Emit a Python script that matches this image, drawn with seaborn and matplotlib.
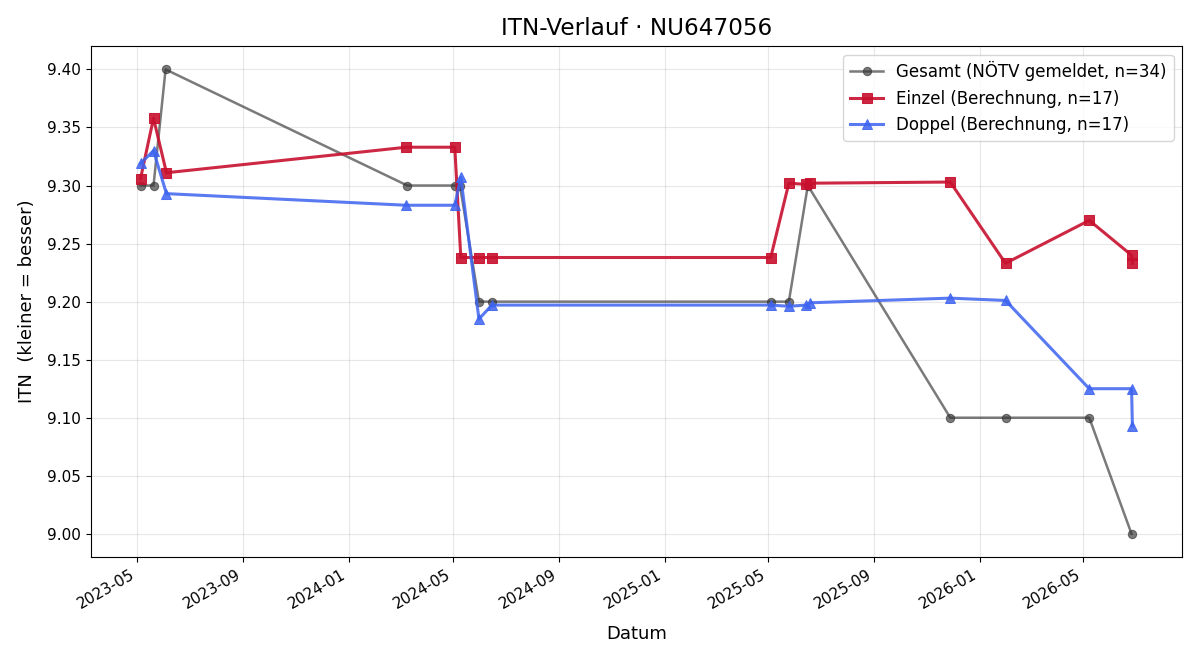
import pandas as pd
import numpy as np
import seaborn as sns
import matplotlib.pyplot as plt
import matplotlib.dates as mdates

# values
gesamt_dates = ['2023-05-05', '2023-05-20', '2023-06-03', '2024-03-09',
                '2024-05-03', '2024-05-09', '2024-05-31', '2024-06-15',
                '2025-05-04', '2025-05-25', '2025-06-16', '2025-11-28',
                '2026-01-31', '2026-05-08', '2026-06-26']
gesamt_itn = [9.30, 9.30, 9.40, 9.30, 9.30, 9.30, 9.20, 9.20,
              9.20, 9.20, 9.30, 9.10, 9.10, 9.10, 9.00]

calc_dates = ['2023-05-05', '2023-05-20', '2023-06-04', '2024-03-08',
              '2024-05-03', '2024-05-10', '2024-05-31', '2024-06-15',
              '2025-05-04', '2025-05-25', '2025-06-14', '2025-06-19',
              '2025-11-28', '2026-01-31', '2026-05-08', '2026-06-26',
              '2026-06-27']
einzel_itn = [9.306, 9.358, 9.311, 9.333, 9.333, 9.238, 9.238, 9.238,
              9.238, 9.302, 9.301, 9.302, 9.303, 9.233, 9.270, 9.240,
              9.233]
doppel_itn = [9.319, 9.330, 9.293, 9.283, 9.283, 9.307, 9.185, 9.197,
              9.197, 9.196, 9.197, 9.199, 9.203, 9.201, 9.125, 9.125,
              9.093]

df_g = pd.DataFrame({'Datum': pd.to_datetime(gesamt_dates), 'ITN': gesamt_itn})
df_e = pd.DataFrame({'Datum': pd.to_datetime(calc_dates), 'ITN': einzel_itn})
df_d = pd.DataFrame({'Datum': pd.to_datetime(calc_dates), 'ITN': doppel_itn})

fig, ax = plt.subplots(figsize=(12, 6.6), dpi=100)

sns.lineplot(data=df_g, x='Datum', y='ITN', ax=ax, estimator=None, sort=False,
             color='#333333', alpha=0.65, marker='o', markersize=6,
             markeredgecolor='#333333', linewidth=1.8,
             label='Gesamt (NÖTV gemeldet, n=34)')
sns.lineplot(data=df_e, x='Datum', y='ITN', ax=ax, estimator=None, sort=False,
             color='#C8102E', alpha=0.9, marker='s', markersize=7,
             markeredgecolor='#C8102E', linewidth=2.2,
             label='Einzel (Berechnung, n=17)')
sns.lineplot(data=df_d, x='Datum', y='ITN', ax=ax, estimator=None, sort=False,
             color='#3D63F0', alpha=0.85, marker='^', markersize=7,
             markeredgecolor='#3D63F0', linewidth=2.2,
             label='Doppel (Berechnung, n=17)')

ax.set_title('ITN-Verlauf · NU647056', fontsize=16.7, pad=8)
ax.set_xlabel('Datum', fontsize=13, labelpad=10)
ax.set_ylabel('ITN  (kleiner = besser)', fontsize=13, labelpad=8)
ax.tick_params(labelsize=11)
ax.grid(True, alpha=0.3)
ax.xaxis.set_major_locator(mdates.MonthLocator(bymonth=[1, 5, 9]))
ax.xaxis.set_major_formatter(mdates.DateFormatter('%Y-%m'))
ax.yaxis.set_major_formatter(plt.FormatStrFormatter('%.2f'))
ax.legend(loc='upper right', fontsize=12)
fig.autofmt_xdate()

fig.subplots_adjust(left=0.0758, right=0.985, top=0.930, bottom=0.156)
plt.savefig('out.png', dpi=100)
